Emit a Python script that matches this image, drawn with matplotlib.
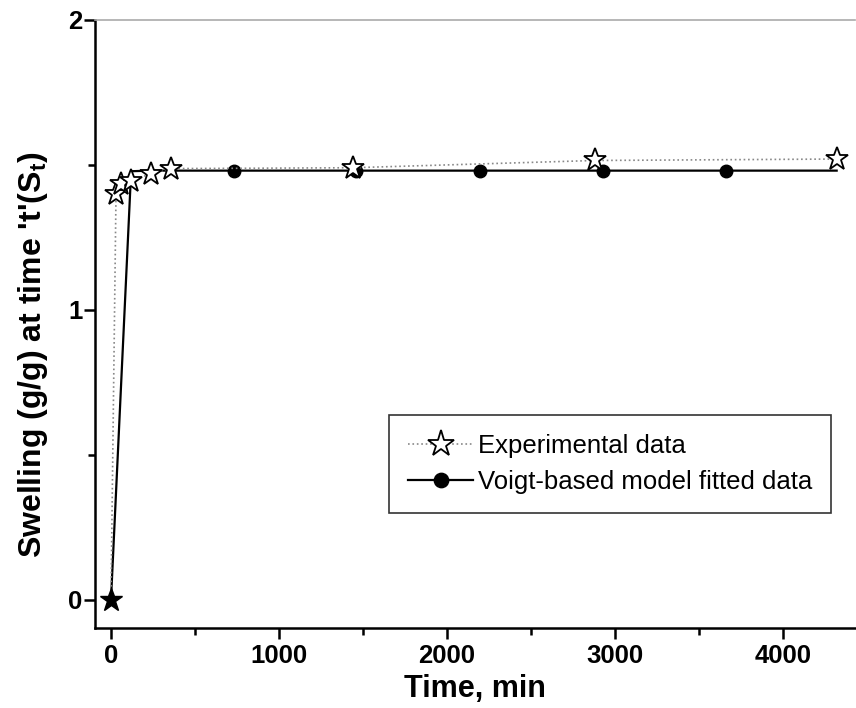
import matplotlib.pyplot as plt
import numpy as np

plt.rcParams['font.family'] = ['Liberation Sans', 'DejaVu Sans']
plt.rcParams['mathtext.fontset'] = 'custom'
plt.rcParams['mathtext.bf'] = 'Liberation Sans:bold'

# experimental swelling data
t_exp = [0, 30, 60, 120, 240, 360, 1440, 2880, 4320]
s_exp = [0.0, 1.40, 1.435, 1.445, 1.47, 1.487, 1.49, 1.515, 1.52]

# Voigt-based model fitted data
t_fit = [0, 120, 240, 360, 730, 1460, 2195, 2930, 3660, 4320]
s_fit = [0.0, 1.478, 1.48, 1.48, 1.48, 1.48, 1.48, 1.48, 1.48, 1.48]
fit_marked = [4, 5, 6, 7, 8]

fig = plt.figure(figsize=(8.56, 7.08), dpi=100)
ax = fig.add_axes([0.111, 0.113, 0.888, 0.859])

ax.plot(t_fit, s_fit, '-', color='black', lw=1.6, marker='o', ms=9,
        markevery=fit_marked, label='Voigt-based model fitted data', zorder=2)
ax.plot(t_exp, s_exp, ':', color='#888888', lw=1.2, marker='*', ms=17,
        mfc='white', mec='black', mew=1.3, markevery=list(range(1, len(t_exp))),
        label='Experimental data', zorder=3)
ax.plot(t_exp[:1], s_exp[:1], '*', color='black', ms=17, zorder=4)

ax.set_xlim(-95, 4430)
ax.set_ylim(-0.097, 2.0)
ax.set_xticks([0, 1000, 2000, 3000, 4000])
ax.set_xticks([500, 1500, 2500, 3500], minor=True)
ax.set_yticks([0, 1, 2])
ax.set_yticks([0.5, 1.5], minor=True)

for lab in ax.get_xticklabels() + ax.get_yticklabels():
    lab.set_fontweight('bold')
ax.tick_params(axis='both', which='major', labelsize=18.5, length=8, width=1.8, direction='out')
ax.tick_params(axis='both', which='minor', length=5, width=1.8, direction='out')
ax.tick_params(axis='y', pad=1)

ax.spines['left'].set_linewidth(1.8)
ax.spines['bottom'].set_linewidth(1.8)
ax.spines['top'].set_color('#aaaaaa')
ax.spines['top'].set_linewidth(1.2)
ax.spines['right'].set_visible(False)

ax.set_xlabel('Time, min', fontsize=22, fontweight='bold', labelpad=4)
ax.set_ylabel("Swelling (g/g) at time 't'(S$_\\mathbf{t}$)", fontsize=23,
              fontweight='bold')
ax.yaxis.set_label_coords(-0.059, 0.45)

handles, labels = ax.get_legend_handles_labels()
leg = ax.legend(handles[::-1], labels[::-1], loc='upper left', bbox_to_anchor=(0.387, 0.35),
                borderaxespad=0, fontsize=18.5, frameon=True, fancybox=False,
                edgecolor='black', handlelength=2.5, handletextpad=0.2,
                borderpad=0.75, labelspacing=0.45, markerscale=1.15)
leg.get_frame().set_linewidth(1.2)

fig.savefig('out.png', dpi=100)
